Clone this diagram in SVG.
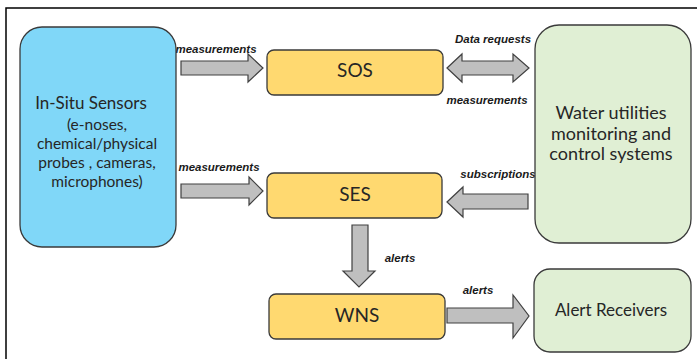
<svg xmlns="http://www.w3.org/2000/svg" width="697" height="359" viewBox="0 0 697 359">
<style>
.box{stroke:#3a3a3a;stroke-width:1.3}
.blue{fill:#80d7f8}
.yellow{fill:#ffd970}
.green{fill:#e0efd4}
.arrow{fill:#bfbfbf;stroke:#404040;stroke-width:1.2;stroke-linejoin:miter}
.t{font-family:Lato,"Open Sans","Liberation Sans",sans-serif;fill:#262626;text-anchor:middle}
.lbl{font-family:"Liberation Sans",Arial,sans-serif;font-weight:bold;font-style:italic;font-size:11.5px;fill:#1a1a1a;text-anchor:middle}
</style>
<rect x="0" y="0" width="697" height="359" fill="#ffffff"/>
<path d="M6,359 V8 H697" fill="none" stroke="#000" stroke-width="1.5"/>
<g id="connectors">
<polygon class="arrow" points="181,61 248,61 248,54 263,68 248,82 248,75 181,75"/>
<text class="lbl" x="216" y="53">measurements</text>
<polygon class="arrow" points="181,184 249,184 249,177 263,191 249,205 249,198 181,198"/>
<text class="lbl" x="219" y="171">measurements</text>
<polygon class="arrow" points="447,68 462,54 462,61 513,61 513,54 529,68 513,82 513,75 462,75 462,82"/>
<text class="lbl" x="493" y="43">Data requests</text>
<text class="lbl" x="487" y="104">measurements</text>
<polygon class="arrow" points="447,202 463,187 463,194 528,194 528,209 463,209 463,217"/>
<text class="lbl" x="498" y="178">subscriptions</text>
<polygon class="arrow" points="352,225 368,225 368,271 375,271 359,287 343,271 352,271"/>
<text class="lbl" x="400" y="262">alerts</text>
<polygon class="arrow" points="447,308 513,308 513,295 529,316 513,338 513,323 447,323"/>
<text class="lbl" x="478" y="294">alerts</text>
</g>
<g id="sensors">
<rect class="box blue" x="20" y="27" width="156" height="220" rx="22"/>
<text class="t" x="91" y="109" font-size="17">In-Situ Sensors</text>
<text class="t" x="97" y="130" font-size="15.5">(e-noses,</text>
<text class="t" x="97" y="149" font-size="15.5">chemical/physical</text>
<text class="t" x="97" y="168" font-size="15.5">probes , cameras,</text>
<text class="t" x="97" y="187" font-size="15.5">microphones)</text>
</g>
<g id="sos">
<rect class="box yellow" x="267" y="50" width="176" height="45" rx="7"/>
<text class="t" x="355" y="77" font-size="19">SOS</text>
</g>
<g id="ses">
<rect class="box yellow" x="267" y="173" width="175" height="45" rx="7"/>
<text class="t" x="355" y="201" font-size="19">SES</text>
</g>
<g id="wns">
<rect class="box yellow" x="269" y="294" width="176" height="45" rx="7"/>
<text class="t" x="357" y="322" font-size="19">WNS</text>
</g>
<g id="water">
<rect class="box green" x="535" y="25" width="156" height="218" rx="24"/>
<text class="t" x="611" y="119" font-size="18">Water utilities</text>
<text class="t" x="611" y="139.5" font-size="18">monitoring and</text>
<text class="t" x="611" y="160" font-size="18">control systems</text>
</g>
<g id="receivers">
<rect class="box green" x="534" y="269" width="157" height="83" rx="16"/>
<text class="t" x="611" y="316" font-size="17">Alert Receivers</text>
</g>
</svg>
